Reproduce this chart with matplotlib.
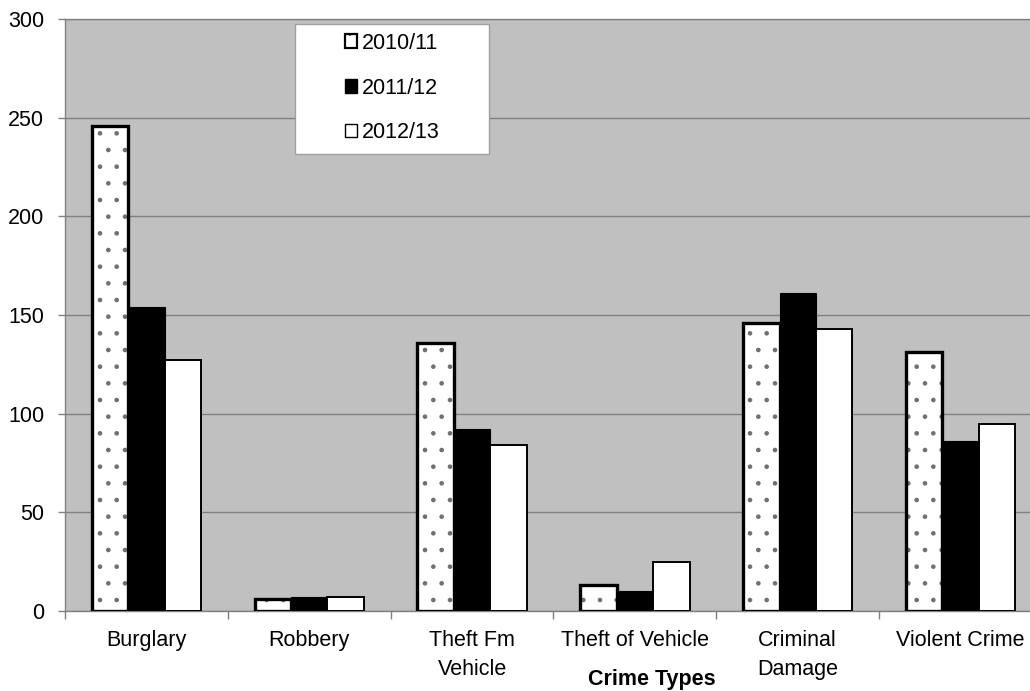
import matplotlib
matplotlib.use("Agg")
import matplotlib.pyplot as plt
from matplotlib.patches import Rectangle, Patch
import numpy as np

categories = ["Burglary", "Robbery", "Theft Fm\nVehicle", "Theft of Vehicle", "Criminal\nDamage", "Violent Crime"]
series_names = ["2010/11", "2011/12", "2012/13"]
v2010 = [246, 6, 136, 13, 146, 131]
v2011 = [154, 7, 92, 10, 161, 86]
v2012 = [127, 7, 84, 25, 143, 95]
yticks = [0, 50, 100, 150, 200, 250, 300]

plt.rcParams['font.family'] = ['Liberation Sans', 'DejaVu Sans']
plt.rcParams['hatch.linewidth'] = 0.9

W, H = 1030, 691
FS = 15.5
fig = plt.figure(figsize=(W / 100, H / 100), dpi=100)
ax = fig.add_axes([65 / W, 1 - 611 / H, 977 / W, 592 / H])
ax.set_facecolor('#c0c0c0')

x = np.arange(len(categories))
bw = 0.224
grid_c = '#808080'

# 2010/11 dotted bars
ax.bar(x - bw, v2010, bw, color='white', edgecolor='#707070', hatch='.', linewidth=0, zorder=3)
ax.bar(x - bw, v2010, bw, facecolor='none', edgecolor='black', linewidth=2.4, zorder=4)
# 2011/12 black
ax.bar(x, v2011, bw, color='black', edgecolor='black', linewidth=0.8, zorder=3)
# 2012/13 white
ax.bar(x + bw, v2012, bw, color='white', edgecolor='black', linewidth=1.4, zorder=3)

ax.set_xlim(-0.5, len(categories) - 0.5)
ax.set_ylim(0, 300)
ax.set_yticks(yticks)
ax.set_yticklabels([str(t) for t in yticks])
ax.yaxis.grid(True, color=grid_c, linewidth=1.0, zorder=0)
ax.set_axisbelow(True)

ax.set_xticks(np.arange(len(categories) + 1) - 0.5)
ax.set_xticklabels([])
ax.set_xticks(x, minor=True)
ax.set_xticklabels(categories, minor=True, fontsize=FS, linespacing=1.5)
ax.tick_params(axis='x', which='major', length=6, color=grid_c, width=1)
ax.tick_params(axis='x', which='minor', length=0, pad=14)
ax.tick_params(axis='y', length=5, color=grid_c, width=1, labelsize=FS, pad=10)

for s in ['left', 'bottom', 'top', 'right']:
    ax.spines[s].set_color(grid_c)
    ax.spines[s].set_linewidth(1.0)

# legend box
ax.add_patch(Rectangle(((295 - 65) / 977, (611 - 154) / 592), 194 / 977, 130 / 592,
                       transform=ax.transAxes, facecolor='white', edgecolor='#a0a0a0',
                       linewidth=1.0, zorder=5))
handles = [Patch(facecolor='white', edgecolor='black', hatch='.', linewidth=1.6),
           Patch(facecolor='black', edgecolor='black'),
           Patch(facecolor='white', edgecolor='black', linewidth=1.0)]
leg = ax.legend(handles, series_names, loc='center', bbox_to_anchor=((392 - 65) / 977, (611 - 88) / 592),
                frameon=False, fontsize=FS, handlelength=0.6, handleheight=0.6,
                handletextpad=0.2, labelspacing=1.1)
leg.set_zorder(6)

fig.text(652 / W, 1 - 680 / H, "Crime Types", fontsize=FS, fontweight='bold', ha='center', va='center')

fig.savefig("out.png", dpi=100)
